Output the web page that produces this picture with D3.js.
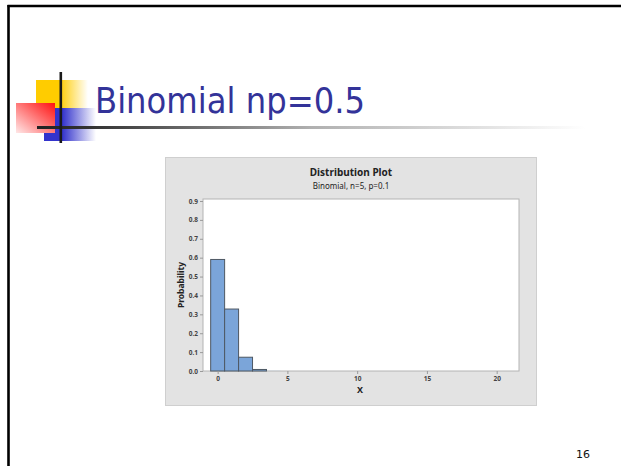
<!DOCTYPE html>
<html>
<head>
<meta charset="utf-8">
<script src="https://cdn.jsdelivr.net/npm/d3@7/dist/d3.min.js"></script>
<style>
  html, body { margin: 0; padding: 0; background: #ffffff; }
  svg { display: block; }
</style>
</head>
<body>
<svg id="slide" width="621" height="466"></svg>
<script>
// Binomial(n = 5, p = 0.1) probability mass
const slideTitle = "Binomial np=0.5";
const chartTitle = "Distribution Plot";
const chartSubtitle = "Binomial, n=5, p=0.1";
const xLabel = "X";
const yLabel = "Probability";
const pageNumber = "16";

const xValues = [0, 1, 2, 3, 4, 5];
const probabilities = [0.59049, 0.32805, 0.0729, 0.0081, 0.00045, 0.00001];
const xTicks = [0, 5, 10, 15, 20];
const yTicks = [0.0, 0.1, 0.2, 0.3, 0.4, 0.5, 0.6, 0.7, 0.8, 0.9];

const svg = d3.select("#slide");
const defs = svg.append("defs");

// ---- slide frame ----
svg.append("line").attr("x1", 7.5).attr("x2", 621).attr("y1", 6).attr("y2", 6)
  .attr("stroke", "#000").attr("stroke-width", 2.6);
svg.append("line").attr("x1", 8.5).attr("x2", 8.5).attr("y1", 5).attr("y2", 466)
  .attr("stroke", "#000").attr("stroke-width", 2.6);

// ---- title ornament ----
function hGrad(id, color, solidUntil) {
  const g = defs.append("linearGradient").attr("id", id)
    .attr("x1", 0).attr("y1", 0).attr("x2", 1).attr("y2", 0);
  g.append("stop").attr("offset", 0).attr("stop-color", color);
  g.append("stop").attr("offset", solidUntil).attr("stop-color", color);
  g.append("stop").attr("offset", 1).attr("stop-color", color).attr("stop-opacity", 0);
}
hGrad("gYellow", "#ffcc00", 0.45);
hGrad("gBlue", "#3333cc", 0.35);

const gRed = defs.append("linearGradient").attr("id", "gRed")
  .attr("x1", 1).attr("y1", 0).attr("x2", 0).attr("y2", 1);
gRed.append("stop").attr("offset", 0).attr("stop-color", "#ff1010");
gRed.append("stop").attr("offset", 0.35).attr("stop-color", "#ff5a5a");
gRed.append("stop").attr("offset", 1).attr("stop-color", "#ffe8e8");

const gRule = defs.append("linearGradient").attr("id", "gRule")
  .attr("x1", 0).attr("y1", 0).attr("x2", 1).attr("y2", 0);
gRule.append("stop").attr("offset", 0).attr("stop-color", "#222");
gRule.append("stop").attr("offset", 0.1).attr("stop-color", "#333");
gRule.append("stop").attr("offset", 0.5).attr("stop-color", "#b0b0b0");
gRule.append("stop").attr("offset", 1).attr("stop-color", "#ffffff");

svg.append("rect").attr("x", 36).attr("y", 80).attr("width", 52).attr("height", 28)
  .attr("fill", "url(#gYellow)");
svg.append("rect").attr("x", 44).attr("y", 108).attr("width", 52).attr("height", 33)
  .attr("fill", "url(#gBlue)");
svg.append("rect").attr("x", 16).attr("y", 103).attr("width", 39).attr("height", 30)
  .attr("fill", "url(#gRed)");
svg.append("rect").attr("x", 37).attr("y", 126).attr("width", 548).attr("height", 3)
  .attr("fill", "url(#gRule)");
svg.append("rect").attr("x", 59.5).attr("y", 72).attr("width", 2.6).attr("height", 71)
  .attr("fill", "#1a1a1a");

svg.append("text")
  .attr("x", 95).attr("y", 113)
  .attr("font-family", "Tahoma, 'DejaVu Sans', sans-serif")
  .attr("font-size", 35)
  .attr("fill", "#333399")
  .attr("textLength", 270)
  .attr("lengthAdjust", "spacingAndGlyphs")
  .text(slideTitle);

svg.append("text")
  .attr("x", 583).attr("y", 458)
  .attr("text-anchor", "middle")
  .attr("font-family", "Tahoma, 'DejaVu Sans', sans-serif")
  .attr("font-size", 11)
  .attr("fill", "#111")
  .text(pageNumber);

// ---- distribution plot panel ----
const panel = { x: 165, y: 157, w: 372, h: 249 };
svg.append("rect")
  .attr("x", panel.x + 0.5).attr("y", panel.y + 0.5)
  .attr("width", panel.w - 1).attr("height", panel.h - 1)
  .attr("fill", "#e3e3e3").attr("stroke", "#cfcfcf");

const plot = { left: 203, right: 519, top: 199, bottom: 371 };
const x = d3.scaleLinear().domain([-1.05, 21.6]).range([plot.left, plot.right]);
const y = d3.scaleLinear().domain([0, 0.9106]).range([plot.bottom, plot.top]);

const font = "'Segoe UI', 'Noto Sans', 'Open Sans', sans-serif";

svg.append("rect")
  .attr("x", plot.left).attr("y", plot.top)
  .attr("width", plot.right - plot.left).attr("height", plot.bottom - plot.top)
  .attr("fill", "#ffffff").attr("stroke", "#b4b4b4").attr("stroke-width", 1);

// bars (width of one unit, centred on each outcome); outlines only on bars
// tall enough to be seen at this scale
svg.append("g").selectAll("rect")
  .data(xValues.map((v, i) => ({ v, p: probabilities[i] })))
  .join("rect")
  .attr("x", d => x(d.v - 0.5))
  .attr("y", d => y(d.p))
  .attr("width", d => x(d.v + 0.5) - x(d.v - 0.5))
  .attr("height", d => y(0) - y(d.p))
  .attr("fill", "#7ba5d9")
  .attr("stroke", d => (y(0) - y(d.p)) >= 1 ? "#4e5863" : "none")
  .attr("stroke-width", 1);

// axes
const yAxis = d3.axisLeft(y).tickValues(yTicks).tickFormat(d3.format(".1f"))
  .tickSize(3).tickPadding(2);
const yG = svg.append("g").attr("transform", `translate(${plot.left},0)`).call(yAxis);
const xAxis = d3.axisBottom(x).tickValues(xTicks).tickFormat(d3.format("d"))
  .tickSize(3).tickPadding(2.5);
const xG = svg.append("g").attr("transform", `translate(0,${plot.bottom})`).call(xAxis);

[yG, xG].forEach(g => {
  g.select(".domain").remove();
  g.selectAll(".tick line").attr("stroke", "#9a9a9a");
  g.selectAll(".tick text")
    .attr("font-family", font).attr("font-size", 6.5).attr("font-weight", "bold")
    .attr("fill", "#444");
});

// titles
svg.append("text")
  .attr("x", 351).attr("y", 176)
  .attr("text-anchor", "middle")
  .attr("font-family", font).attr("font-size", 10).attr("font-weight", "bold")
  .attr("fill", "#222")
  .text(chartTitle);
svg.append("text")
  .attr("x", 351).attr("y", 189)
  .attr("text-anchor", "middle")
  .attr("font-family", font).attr("font-size", 8)
  .attr("fill", "#222")
  .text(chartSubtitle);

svg.append("text")
  .attr("x", x(10.2)).attr("y", 393)
  .attr("text-anchor", "middle")
  .attr("font-family", font).attr("font-size", 9).attr("font-weight", "bold")
  .attr("fill", "#222")
  .text(xLabel);

svg.append("text")
  .attr("transform", "translate(184,285) rotate(-90)")
  .attr("text-anchor", "middle")
  .attr("font-family", font).attr("font-size", 8.5).attr("font-weight", "bold")
  .attr("fill", "#222")
  .text(yLabel);
</script>
</body>
</html>
